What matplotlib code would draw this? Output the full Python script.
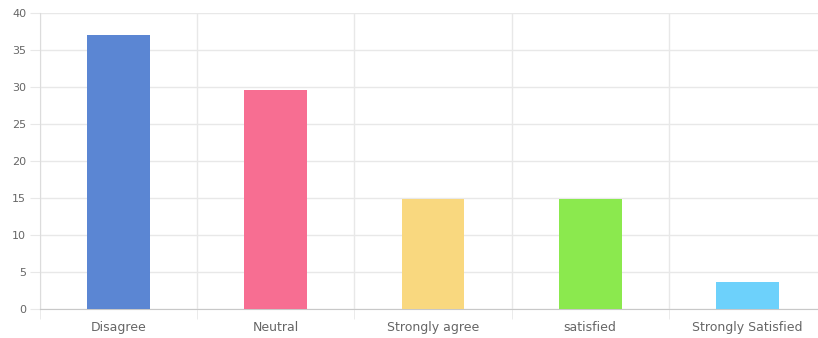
import matplotlib
matplotlib.use("Agg")
import matplotlib.pyplot as plt
import numpy as np

categories = ["Disagree", "Neutral", "Strongly agree", "satisfied", "Strongly Satisfied"]
values = [37.04, 29.63, 14.81, 14.81, 3.70]
colors = ["#5b86d3", "#f76e92", "#f9d87f", "#8be94e", "#6dd1fb"]
yticks = [0, 5, 10, 15, 20, 25, 30, 35, 40]

plt.rcParams['font.family'] = ['DejaVu Sans']

W, H = 818, 338
fig = plt.figure(figsize=(W/100, H/100), dpi=100)
left, right, top, bottom = 40, 826, 13, 309
ax = fig.add_axes([left/W, (H-bottom)/H, (right-left)/W, (bottom-top)/H])

x = np.arange(len(categories))
ax.bar(x, values, width=0.4, color=colors, zorder=3)

ax.set_xlim(-0.5, len(categories)-0.5)
ax.set_ylim(0, 40)
ax.set_yticks(yticks)
ax.set_yticklabels([str(t) for t in yticks])
ax.set_xticks(x)
ax.set_xticklabels(categories)
ax.set_xticks(np.arange(-0.5, len(categories)), minor=True)

grid_c = "#e8e8e8"
ax.grid(axis='y', which='major', color=grid_c, linewidth=1, zorder=0)
ax.grid(axis='x', which='minor', color=grid_c, linewidth=1, zorder=0)

for s in ['top', 'right']:
    ax.spines[s].set_visible(False)
ax.spines['left'].set_color("#dcdcdc")
ax.spines['bottom'].set_color("#c8c8c8")

ax.tick_params(axis='y', which='major', length=7, color=grid_c, labelsize=8, labelcolor="#666666", pad=3)
ax.tick_params(axis='x', which='major', length=0, labelsize=9, labelcolor="#666666", pad=16)
ax.tick_params(axis='x', which='minor', length=7, color=grid_c)
for lbl in ax.get_xticklabels():
    lbl.set_va('baseline')

fig.savefig("out.png", dpi=100)
